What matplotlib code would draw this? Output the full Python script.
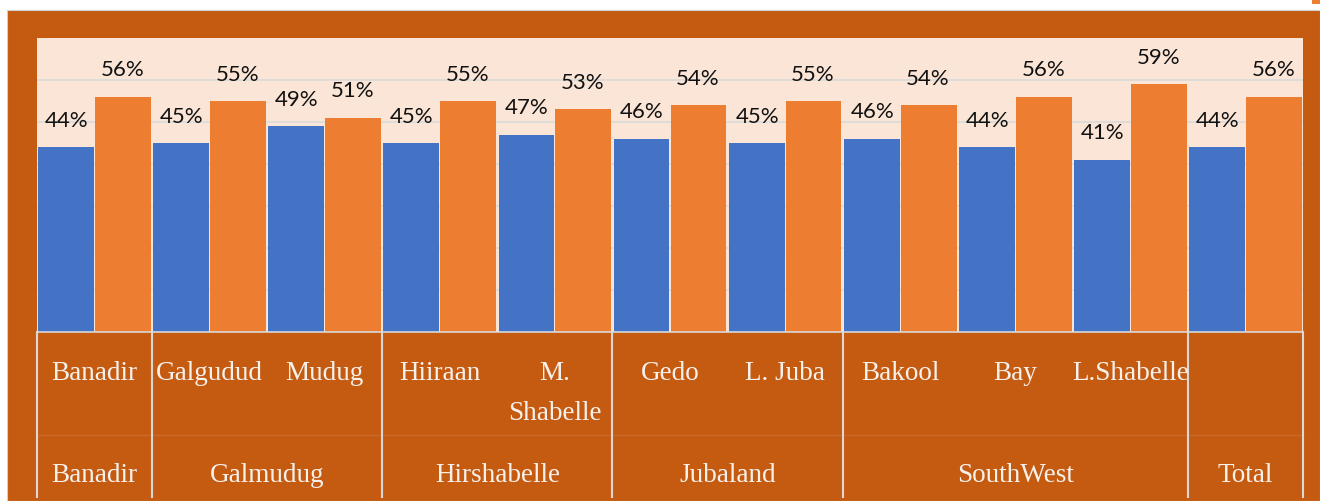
import matplotlib
matplotlib.use("Agg")
import matplotlib.pyplot as plt
import matplotlib.transforms as mtransforms
from matplotlib.patches import Rectangle

regions = ["Banadir", "Galgudud", "Mudug", "Hiiraan", "M.\nShabelle", "Gedo",
           "L. Juba", "Bakool", "Bay", "L.Shabelle", ""]
blue_vals = [44, 45, 49, 45, 47, 46, 45, 46, 44, 41, 44]
orange_vals = [56, 55, 51, 55, 53, 54, 55, 54, 56, 59, 56]
states = ["Banadir", "Galmudug", "Hirshabelle", "Jubaland", "SouthWest", "Total"]
state_sizes = [1, 2, 2, 2, 3, 1]

BG = "#C55A11"
PLOT_BG = "#FBE5D6"
BLUE = "#4472C4"
ORANGE = "#ED7D31"
GRID = "#D9D9D9"
LABEL = "#F7F1EC"

fig = plt.figure(figsize=(13.2, 5.01), dpi=100)
fig.patch.set_facecolor("white")
fig.patches.append(Rectangle((7 / 1320, 0), 1 - 7 / 1320, 491 / 501,
                             transform=fig.transFigure, facecolor=BG,
                             edgecolor="#D0D0D0", linewidth=0.8, zorder=-10))
# bit of legend peeking in at the top right
fig.patches.append(Rectangle((1312 / 1320, 497 / 501), 8 / 1320, 4 / 501,
                             transform=fig.transFigure, facecolor=ORANGE,
                             edgecolor="none", zorder=-10))

ax = fig.add_axes([37 / 1320, 169 / 501, 1266 / 1320, 294 / 501])
ax.set_facecolor(PLOT_BG)

x = list(range(len(regions)))
w = 0.485
ax.bar([i - w / 2 - 0.005 for i in x], blue_vals, width=w, color=BLUE, zorder=2)
ax.bar([i + w / 2 + 0.005 for i in x], orange_vals, width=w, color=ORANGE, zorder=2)

for i in x:
    ax.annotate(f"{blue_vals[i]}%", (i - w / 2, blue_vals[i]), xytext=(0, 19),
                textcoords="offset points", ha="center", va="center",
                fontsize=16, family="Lato", color="#111111")
    ax.annotate(f"{orange_vals[i]}%", (i + w / 2, orange_vals[i]), xytext=(0, 19),
                textcoords="offset points", ha="center", va="center",
                fontsize=16, family="Lato", color="#111111")

ax.set_xlim(-0.5, len(regions) - 0.5)
ax.set_ylim(0, 70)
ax.set_yticks(range(10, 70, 10))
ax.yaxis.grid(True, color=GRID, linewidth=1.2, zorder=1)
ax.set_axisbelow(True)
ax.tick_params(left=False, bottom=False, labelleft=False, labelbottom=False)
for s in ["top", "right", "left"]:
    ax.spines[s].set_visible(False)
ax.spines["bottom"].set_color(GRID)
ax.spines["bottom"].set_linewidth(1.2)

trans = mtransforms.blended_transform_factory(ax.transData, ax.transAxes)
px = 1 / 294  # one pixel in axes fraction
y_bottom = -165 * px

# category labels (first row)
for i, lab in enumerate(regions):
    for j, line in enumerate(lab.split("\n")):
        ax.text(i, -41 * px - j * 40 * px, line, transform=trans, ha="center",
                va="center", fontsize=19.5, family="Liberation Serif", color=LABEL)

# row separator
ax.plot([-0.5, len(regions) - 0.5], [-103 * px, -103 * px], transform=trans,
        color="#CC6A2E", linewidth=1, clip_on=False)

# group boundaries and state labels
start = -0.5
ax.plot([start, start], [0, y_bottom], transform=trans, color=GRID,
        linewidth=1.5, clip_on=False)
for name, n in zip(states, state_sizes):
    end = start + n
    ax.plot([end, end], [0, y_bottom], transform=trans, color=GRID,
            linewidth=1.5, clip_on=False)
    ax.text((start + end) / 2, -144 * px, name, transform=trans, ha="center",
            va="center", fontsize=19.5, family="Liberation Serif", color=LABEL)
    start = end

fig.savefig("out.png", dpi=100, facecolor=fig.get_facecolor())
